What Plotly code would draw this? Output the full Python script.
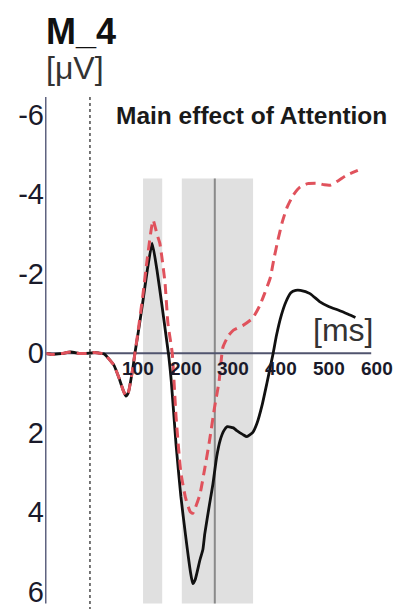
import plotly.graph_objects as go

# ERP waveforms at electrode M_4 (negative up), time in ms relative to onset
time_black = [-94, -80, -60, -40, -20, 0, 10, 20, 30, 40, 50, 60, 70, 75, 80, 90, 94,
              100, 110, 120, 130, 140, 150, 160, 165, 170, 180, 190, 200, 210, 215,
              220, 230, 236, 240, 250, 257, 265, 272, 280, 287, 300, 307, 320, 328,
              340, 349, 360, 370, 383, 390, 400, 410, 420, 430, 440, 460, 480, 500,
              520, 540, 555]
amp_black = [0.0, 0.03, 0.01, -0.03, 0.01, 0.0, -0.02, 0.0, 0.02, 0.15, 0.3, 0.6, 0.95,
             1.08, 1.0, 0.35, 0.0, -0.45, -1.25, -2.1, -2.77, -2.1, -1.25, -0.35, 0.1,
             0.7, 2.3, 3.6, 4.6, 5.5, 5.8, 5.7, 5.2, 4.95, 4.55, 3.8, 3.3, 2.6, 2.2,
             1.95, 1.85, 1.88, 1.95, 2.05, 2.1, 2.0, 1.77, 1.3, 0.75, 0.0, -0.45,
             -0.95, -1.3, -1.52, -1.58, -1.58, -1.5, -1.3, -1.17, -1.08, -0.98, -0.9]

time_red = [-94, -80, -60, -40, -20, 0, 10, 20, 30, 40, 50, 60, 70, 75, 80, 90, 94,
            100, 110, 120, 132, 140, 146, 150, 157, 163, 172, 180, 190, 200, 210, 215,
            220, 230, 240, 250, 260, 270, 278, 290, 300, 320, 340, 355, 365, 377,
            385, 393, 402, 412, 425, 439, 455, 475, 490, 502, 520, 535, 560]
amp_red = [0.0, 0.03, 0.01, -0.03, 0.01, 0.0, -0.02, 0.0, 0.02, 0.15, 0.3, 0.6, 0.95,
           1.08, 1.0, 0.35, 0.0, -0.5, -1.4, -2.4, -3.35, -3.0, -2.77, -2.45, -1.76,
           -0.75, 0.0, 1.6, 3.0, 3.65, 4.0, 4.03, 3.9, 3.55, 2.9, 2.2, 1.4, 0.7,
           -0.15, -0.45, -0.58, -0.7, -0.88, -1.2, -1.5, -1.9, -2.4, -2.85, -3.3,
           -3.67, -3.98, -4.18, -4.27, -4.28, -4.24, -4.23, -4.35, -4.47, -4.6]

# Significant time windows (ms) and marker line
windows = [(111, 151), (192, 341)]
marker_ms = 261

y_ticks = [-6, -4, -2, 0, 2, 4, 6]
x_ticks = [100, 200, 300, 400, 500, 600]

x_min, x_max = -94, 644
y_top, y_bottom = -6.45, 6.44
band_top, band_bottom = -4.4, 6.3

W, H = 398, 609
ML, MT = 45, 97
PW, PH = W - ML, H - MT


def px(x):
    return (x - ML) / PW


def py(y):
    return (H - y) / PH


fig = go.Figure()

fig.add_trace(go.Scatter(
    x=time_black, y=amp_black, mode="lines",
    line=dict(color="#111111", width=2.8, shape="spline", smoothing=0.5),
    showlegend=False, hoverinfo="skip"))

fig.add_trace(go.Scatter(
    x=time_red, y=amp_red, mode="lines",
    line=dict(color="#e0525c", width=3, dash="10px,6px", shape="spline", smoothing=0.5),
    showlegend=False, hoverinfo="skip"))

shapes = []
for a, b in windows:
    shapes.append(dict(type="rect", xref="x", yref="y", x0=a, x1=b,
                       y0=band_top, y1=band_bottom, fillcolor="#e0e0e0",
                       line=dict(width=0), layer="below"))
shapes.append(dict(type="line", xref="x", yref="y", x0=marker_ms, x1=marker_ms,
                   y0=band_top, y1=band_bottom,
                   line=dict(color="#8a8a8a", width=2), layer="below"))
# stimulus onset
shapes.append(dict(type="line", xref="x", yref="y", x0=0, x1=0,
                   y0=y_top, y1=y_bottom,
                   line=dict(color="#555555", width=1.6, dash="dot"), layer="below"))
# zero line (time axis)
shapes.append(dict(type="line", xref="x", yref="y", x0=x_min, x1=588, y0=0, y1=0,
                   line=dict(color="#50546e", width=2), layer="below"))
# amplitude axis
shapes.append(dict(type="line", xref="x", yref="y", x0=x_min, x1=x_min,
                   y0=y_top, y1=band_bottom,
                   line=dict(color="#5f6380", width=3), layer="above"))

annotations = [
    dict(text="<b>M_4</b>", x=px(81), y=py(31), xref="paper", yref="paper",
         showarrow=False, xanchor="center", yanchor="middle",
         font=dict(family="Liberation Sans", size=36, color="#111111")),
    dict(text="[μV]", x=px(75), y=py(68), xref="paper", yref="paper",
         showarrow=False, xanchor="center", yanchor="middle",
         font=dict(family="Liberation Sans", size=32, color="#333333")),
    dict(text="<b>Main effect of Attention</b>", x=px(251), y=py(115), xref="paper",
         yref="paper", showarrow=False, xanchor="center", yanchor="middle",
         font=dict(family="Liberation Sans", size=24.5, color="#1a1a1a")),
    dict(text="[ms]", x=px(343), y=py(330), xref="paper", yref="paper",
         showarrow=False, xanchor="center", yanchor="middle",
         font=dict(family="Liberation Sans", size=32, color="#333333")),
]
for t in x_ticks:
    annotations.append(dict(text="<b>%d</b>" % t, x=t, y=0, xref="x", yref="y",
                            showarrow=False, xanchor="center", yanchor="top",
                            yshift=-3,
                            font=dict(family="Liberation Sans", size=19,
                                      color="#1a1a2a")))

fig.update_layout(
    width=W, height=H,
    margin=dict(l=ML, r=0, t=MT, b=0, pad=0),
    paper_bgcolor="white", plot_bgcolor="white",
    shapes=shapes, annotations=annotations,
    xaxis=dict(range=[x_min, x_max], showgrid=False, zeroline=False,
               showline=False, showticklabels=False, ticks=""),
    yaxis=dict(range=[y_bottom, y_top], showgrid=False, zeroline=False,
               showline=False, tickvals=y_ticks,
               ticktext=[str(v) for v in y_ticks], ticks="",
               tickfont=dict(family="Liberation Sans", size=29, color="#1a1a2a")),
)

fig.write_html("out.html")
